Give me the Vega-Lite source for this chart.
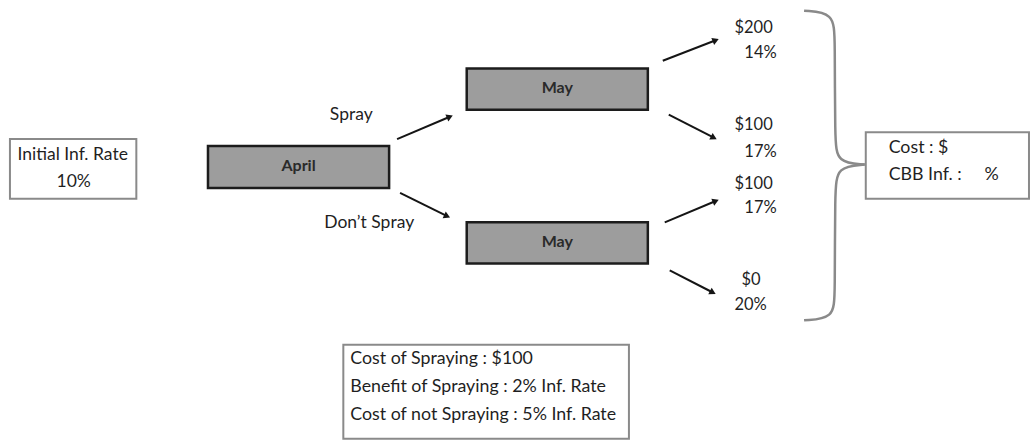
{
  "$schema": "https://vega.github.io/schema/vega-lite/v6.json",
  "width": 1030,
  "height": 440,
  "padding": 0,
  "autosize": {"type": "fit", "contains": "padding"},
  "background": "white",
  "config": {"view": {"stroke": null}, "text": {"font": "Lato", "color": "#1f1f1f"}},
  "datasets": {
    "whiteBoxes": [
      {"name": "initial", "x": 10, "x2": 137, "y": 142, "y2": 203},
      {"name": "result", "x": 870, "x2": 1034, "y": 135, "y2": 203},
      {"name": "notes", "x": 345, "x2": 632, "y": 352, "y2": 448}
    ],
    "greyBoxes": [
      {"name": "April", "x": 209, "x2": 391, "y": 149, "y2": 192},
      {"name": "May top", "x": 469, "x2": 651, "y": 70, "y2": 112},
      {"name": "May bottom", "x": 469, "x2": 651, "y": 227, "y2": 269}
    ],
    "arrows": [
      {"x": 399, "y": 142, "hx": 452, "hy": 119.2, "angle": 66.8},
      {"x": 402, "y": 197, "hx": 449.3, "hy": 220.7, "angle": 114.8},
      {"x": 666, "y": 62, "hx": 719.2, "hy": 41.1, "angle": 67.7},
      {"x": 672, "y": 117, "hx": 717.3, "hy": 140.6, "angle": 117.5},
      {"x": 668, "y": 227, "hx": 719.2, "hy": 205.2, "angle": 67.3},
      {"x": 673, "y": 276, "hx": 716.3, "hy": 298.6, "angle": 117.6}
    ],
    "brace": [
      {"part": "upper", "i": 0, "x": 808, "y": 11},
      {"part": "upper", "i": 1, "x": 838, "y": 13},
      {"part": "upper", "i": 2, "x": 839, "y": 40},
      {"part": "upper", "i": 3, "x": 839, "y": 142},
      {"part": "upper", "i": 4, "x": 841, "y": 166},
      {"part": "upper", "i": 5, "x": 869, "y": 168},
      {"part": "lower", "i": 0, "x": 869, "y": 168},
      {"part": "lower", "i": 1, "x": 841, "y": 170},
      {"part": "lower", "i": 2, "x": 839, "y": 196},
      {"part": "lower", "i": 3, "x": 839, "y": 300},
      {"part": "lower", "i": 4, "x": 838, "y": 325},
      {"part": "lower", "i": 5, "x": 808, "y": 327}
    ],
    "centerText": [
      {"label": "Initial Inf. Rate", "x": 73, "y": 158},
      {"label": "10%", "x": 74, "y": 186}
    ],
    "branchText": [
      {"label": "Spray", "x": 353, "y": 117},
      {"label": "Don’t Spray", "x": 371, "y": 228}
    ],
    "boxText": [
      {"label": "April", "x": 300, "y": 169},
      {"label": "May", "x": 560, "y": 90},
      {"label": "May", "x": 560, "y": 247}
    ],
    "outcomeText": [
      {"label": "$200", "x": 738, "y": 29},
      {"label": "14%", "x": 748, "y": 54},
      {"label": "$100", "x": 738, "y": 128},
      {"label": "17%", "x": 748, "y": 155},
      {"label": "$100", "x": 738, "y": 188},
      {"label": "17%", "x": 748, "y": 212},
      {"label": "$0", "x": 745, "y": 286},
      {"label": "20%", "x": 738, "y": 311}
    ],
    "noteText": [
      {"label": "Cost : $", "x": 893, "y": 151},
      {"label": "CBB Inf. :\u00a0\u00a0\u00a0\u00a0\u00a0%", "x": 893, "y": 179},
      {"label": "Cost of Spraying : $100", "x": 352, "y": 366},
      {"label": "Benefit of Spraying : 2% Inf. Rate", "x": 352, "y": 395},
      {"label": "Cost of not Spraying : 5% Inf. Rate", "x": 352, "y": 424}
    ]
  },
  "layer": [
    {
      "data": {"name": "whiteBoxes"},
      "mark": {"type": "rect", "fill": "white", "stroke": "#8a8a8a", "strokeWidth": 2},
      "encoding": {
        "x": {"field": "x", "type": "quantitative", "axis": null, "scale": {"domain": [0, 1030], "nice": false, "zero": false}},
        "x2": {"field": "x2"},
        "y": {"field": "y", "type": "quantitative", "axis": null, "scale": {"domain": [0, 440], "nice": false, "zero": false, "reverse": true}},
        "y2": {"field": "y2"}
      }
    },
    {
      "data": {"name": "greyBoxes"},
      "mark": {"type": "rect", "fill": "#9d9d9d", "stroke": "#1c1c1c", "strokeWidth": 2.5},
      "encoding": {
        "x": {"field": "x", "type": "quantitative", "axis": null, "scale": {"domain": [0, 1030], "nice": false, "zero": false}},
        "x2": {"field": "x2"},
        "y": {"field": "y", "type": "quantitative", "axis": null, "scale": {"domain": [0, 440], "nice": false, "zero": false, "reverse": true}},
        "y2": {"field": "y2"}
      }
    },
    {
      "data": {"name": "arrows"},
      "mark": {"type": "rule", "stroke": "#151515", "strokeWidth": 2},
      "encoding": {
        "x": {"field": "x", "type": "quantitative", "axis": null, "scale": {"domain": [0, 1030], "nice": false, "zero": false}},
        "x2": {"field": "hx"},
        "y": {"field": "y", "type": "quantitative", "axis": null, "scale": {"domain": [0, 440], "nice": false, "zero": false, "reverse": true}},
        "y2": {"field": "hy"}
      }
    },
    {
      "data": {"name": "arrows"},
      "mark": {"type": "point", "shape": "triangle-up", "filled": true, "fill": "#151515", "opacity": 1, "size": 55},
      "encoding": {
        "x": {"field": "hx", "type": "quantitative", "axis": null, "scale": {"domain": [0, 1030], "nice": false, "zero": false}},
        "y": {"field": "hy", "type": "quantitative", "axis": null, "scale": {"domain": [0, 440], "nice": false, "zero": false, "reverse": true}},
        "angle": {"field": "angle", "type": "quantitative", "scale": null}
      }
    },
    {
      "data": {"name": "brace"},
      "mark": {"type": "line", "interpolate": "basis", "stroke": "#8a8a8a", "strokeWidth": 2.5},
      "encoding": {
        "x": {"field": "x", "type": "quantitative", "axis": null, "scale": {"domain": [0, 1030], "nice": false, "zero": false}},
        "y": {"field": "y", "type": "quantitative", "axis": null, "scale": {"domain": [0, 440], "nice": false, "zero": false, "reverse": true}},
        "detail": {"field": "part", "type": "nominal"},
        "order": {"field": "i", "type": "quantitative"}
      }
    },
    {
      "data": {"name": "centerText"},
      "mark": {"type": "text", "align": "center", "baseline": "middle", "fontSize": 17.5},
      "encoding": {
        "x": {"field": "x", "type": "quantitative", "axis": null, "scale": {"domain": [0, 1030], "nice": false, "zero": false}},
        "y": {"field": "y", "type": "quantitative", "axis": null, "scale": {"domain": [0, 440], "nice": false, "zero": false, "reverse": true}},
        "text": {"field": "label", "type": "nominal"}
      }
    },
    {
      "data": {"name": "branchText"},
      "mark": {"type": "text", "align": "center", "baseline": "middle", "fontSize": 17.5},
      "encoding": {
        "x": {"field": "x", "type": "quantitative", "axis": null, "scale": {"domain": [0, 1030], "nice": false, "zero": false}},
        "y": {"field": "y", "type": "quantitative", "axis": null, "scale": {"domain": [0, 440], "nice": false, "zero": false, "reverse": true}},
        "text": {"field": "label", "type": "nominal"}
      }
    },
    {
      "data": {"name": "boxText"},
      "mark": {"type": "text", "align": "center", "baseline": "middle", "fontSize": 16, "fontWeight": "bold", "color": "#2a2a2a"},
      "encoding": {
        "x": {"field": "x", "type": "quantitative", "axis": null, "scale": {"domain": [0, 1030], "nice": false, "zero": false}},
        "y": {"field": "y", "type": "quantitative", "axis": null, "scale": {"domain": [0, 440], "nice": false, "zero": false, "reverse": true}},
        "text": {"field": "label", "type": "nominal"}
      }
    },
    {
      "data": {"name": "outcomeText"},
      "mark": {"type": "text", "align": "left", "baseline": "middle", "fontSize": 16.5},
      "encoding": {
        "x": {"field": "x", "type": "quantitative", "axis": null, "scale": {"domain": [0, 1030], "nice": false, "zero": false}},
        "y": {"field": "y", "type": "quantitative", "axis": null, "scale": {"domain": [0, 440], "nice": false, "zero": false, "reverse": true}},
        "text": {"field": "label", "type": "nominal"}
      }
    },
    {
      "data": {"name": "noteText"},
      "mark": {"type": "text", "align": "left", "baseline": "middle", "fontSize": 17.8},
      "encoding": {
        "x": {"field": "x", "type": "quantitative", "axis": null, "scale": {"domain": [0, 1030], "nice": false, "zero": false}},
        "y": {"field": "y", "type": "quantitative", "axis": null, "scale": {"domain": [0, 440], "nice": false, "zero": false, "reverse": true}},
        "text": {"field": "label", "type": "nominal"}
      }
    }
  ]
}
